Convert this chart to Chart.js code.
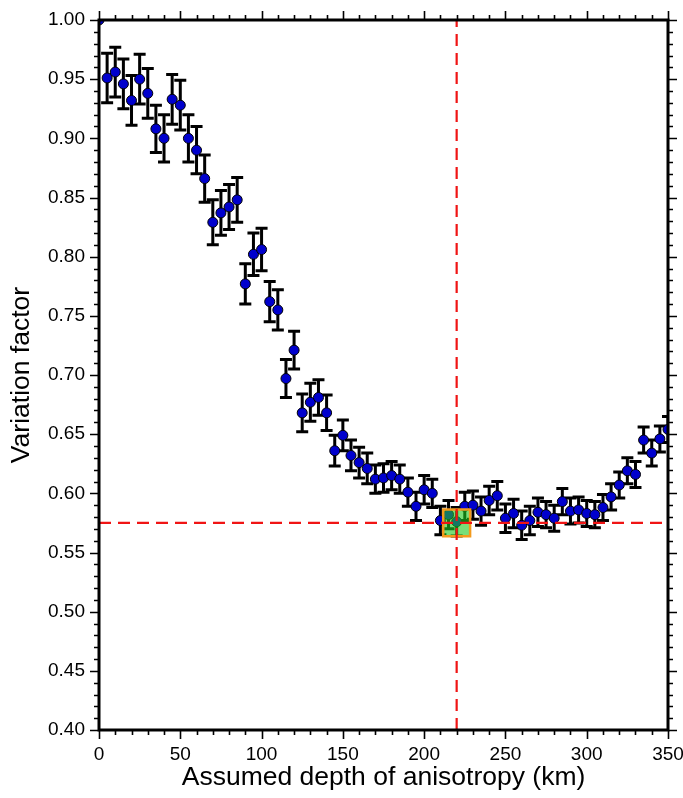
<!DOCTYPE html>
<html>
<head>
<meta charset="utf-8">
<script src="https://cdn.jsdelivr.net/npm/chart.js@4/dist/chart.umd.min.js"></script>
<style>
html,body{margin:0;padding:0;background:#ffffff;}
#wrap{width:683px;height:798px;position:relative;}
</style>
</head>
<body>
<div id="wrap"><canvas id="c" width="683" height="798"></canvas></div>
<script>
// ---- data ----
const depths = [0,5,10,15,20,25,30,35,40,45,50,55,60,65,70,75,80,85,90,95,
  100,105,110,115,120,125,130,135,140,145,150,155,160,165,170,175,180,185,190,195,
  200,205,210,215,220,225,230,235,240,245,250,255,260,265,270,275,280,285,290,295,
  300,305,310,315,320,325,330,335,340,345,350];
const factors = [1.000,0.951,0.956,0.946,0.932,0.950,0.938,0.908,0.900,0.933,
  0.928,0.900,0.890,0.866,0.829,0.837,0.842,0.848,0.777,0.802,
  0.806,0.762,0.755,0.697,0.721,0.668,0.677,0.681,0.668,0.636,
  0.649,0.632,0.626,0.621,0.612,0.613,0.615,0.612,0.601,0.589,
  0.603,0.600,0.577,0.582,0.576,0.589,0.590,0.585,0.594,0.598,
  0.579,0.583,0.573,0.577,0.584,0.582,0.579,0.593,0.585,0.586,
  0.583,0.582,0.588,0.597,0.607,0.619,0.616,0.645,0.634,0.646,0.654];
const errors = [0.000,0.021,0.021,0.021,0.021,0.021,0.021,0.020,0.020,0.021,
  0.021,0.020,0.020,0.020,0.019,0.019,0.019,0.019,0.017,0.018,
  0.018,0.017,0.017,0.016,0.016,0.016,0.016,0.015,0.015,0.013,
  0.013,0.013,0.013,0.013,0.012,0.012,0.012,0.012,0.012,0.012,
  0.012,0.012,0.012,0.012,0.012,0.012,0.012,0.012,0.012,0.012,
  0.012,0.012,0.012,0.012,0.012,0.011,0.011,0.011,0.011,0.011,
  0.011,0.011,0.011,0.011,0.011,0.011,0.011,0.011,0.011,0.011,0.011];
const bestDepth = 220;
const bestFactor = 0.575;
const xTickValues = [0,50,100,150,200,250,300,350];
const yTickValues = [0.40,0.45,0.50,0.55,0.60,0.65,0.70,0.75,0.80,0.85,0.90,0.95,1.00];
const xRange = [0,350];
const yRange = [0.40,1.00];

const FONT = '"Liberation Sans", Arial, Helvetica, sans-serif';

const points = depths.map((d,i)=>({x:d,y:factors[i]}));

const errorBarPlugin = {
  id:'errorBars',
  beforeDatasetsDraw(chart){
    const {ctx, chartArea, scales:{x,y}} = chart;
    ctx.save();
    ctx.beginPath();
    ctx.rect(chartArea.left, chartArea.top, chartArea.right-chartArea.left, chartArea.bottom-chartArea.top);
    ctx.clip();
    ctx.strokeStyle = '#000';
    ctx.lineWidth = 3;
    ctx.lineCap = 'butt';
    const cap = 6;
    depths.forEach((d,i)=>{
      const e = errors[i];
      if (!e) return;
      const px = x.getPixelForValue(d);
      const top = y.getPixelForValue(factors[i]+e);
      const bot = y.getPixelForValue(factors[i]-e);
      ctx.beginPath();
      ctx.moveTo(px, top-1.5); ctx.lineTo(px, bot+1.5);
      ctx.moveTo(px-cap, top); ctx.lineTo(px+cap, top);
      ctx.moveTo(px-cap, bot); ctx.lineTo(px+cap, bot);
      ctx.stroke();
    });
    ctx.restore();
  }
};

const framePlugin = {
  id:'frame',
  afterDraw(chart){
    const {ctx, chartArea:a, scales:{x,y}} = chart;
    ctx.save();
    ctx.strokeStyle = '#000';
    ctx.lineWidth = 1.6;
    ctx.beginPath();
    for (let v = xRange[0]; v <= xRange[1]+1e-9; v += 10) {
      const px = Math.round(x.getPixelForValue(v)) + 0.5;
      const len = (Math.round(v) % 50 === 0) ? 9 : 5;
      ctx.moveTo(px, a.bottom); ctx.lineTo(px, a.bottom+len);
      ctx.moveTo(px, a.top); ctx.lineTo(px, a.top-len);
    }
    for (let k = 40; k <= 100; k += 1) {
      const v = k/100;
      const py = Math.round(y.getPixelForValue(v)) + 0.5;
      const len = (k % 5 === 0) ? 9 : 5;
      ctx.moveTo(a.left, py); ctx.lineTo(a.left-len, py);
      ctx.moveTo(a.right, py); ctx.lineTo(a.right+len, py);
    }
    ctx.stroke();
    ctx.lineWidth = 3;
    ctx.strokeRect(a.left, a.top, a.right-a.left, a.bottom-a.top);
    ctx.restore();
  }
};

new Chart(document.getElementById('c'), {
  type:'scatter',
  data:{
    datasets:[
      {
        label:'best depth',
        type:'line',
        data:[{x:bestDepth,y:yRange[0]},{x:bestDepth,y:yRange[1]}],
        borderColor:'#f01414',
        borderWidth:2.2,
        borderDash:[12,7],
        pointRadius:0,
        fill:false,
        showLine:true,
        order:0
      },
      {
        label:'best factor',
        type:'line',
        data:[{x:xRange[0],y:bestFactor},{x:xRange[1],y:bestFactor}],
        borderColor:'#f01414',
        borderWidth:2.2,
        borderDash:[12,7],
        pointRadius:0,
        fill:false,
        showLine:true,
        order:0
      },
      {
        label:'minimum',
        data:[{x:bestDepth,y:bestFactor}],
        pointStyle:'rect',
        pointRadius:19,
        backgroundColor:'rgba(30,200,30,0.6)',
        borderColor:'#f39a1c',
        borderWidth:2.5,
        order:1
      },
      {
        label:'variation factor',
        data:points,
        pointStyle:'circle',
        pointRadius:5,
        backgroundColor:'#0000cd',
        borderColor:'#000000',
        borderWidth:1,
        order:2
      }
    ]
  },
  options:{
    responsive:false,
    animation:false,
    events:[],
    layout:{autoPadding:false, padding:{top:20,right:15,left:0,bottom:0}},
    plugins:{legend:{display:false},tooltip:{enabled:false}},
    scales:{
      x:{
        type:'linear', position:'bottom',
        min:xRange[0], max:xRange[1],
        grid:{display:false, drawTicks:false},
        border:{display:false},
        afterBuildTicks:s=>{ s.ticks = xTickValues.map(v=>({value:v})); },
        ticks:{font:{family:FONT,size:19}, color:'#000', padding:13, maxRotation:0, autoSkip:false,
               callback:v=>String(v)},
        title:{display:true, text:'Assumed depth of anisotropy (km)', color:'#000',
               font:{family:FONT,size:26.5}, padding:{top:0,bottom:4}},
        afterFit:s=>{ s.height = 68; s.paddingLeft = 0; s.paddingRight = 0; }
      },
      y:{
        type:'linear', position:'left',
        min:yRange[0], max:yRange[1],
        grid:{display:false, drawTicks:false},
        border:{display:false},
        afterBuildTicks:s=>{ s.ticks = yTickValues.map(v=>({value:v})); },
        ticks:{font:{family:FONT,size:19}, color:'#000', padding:14, autoSkip:false,
               callback:v=>Number(v).toFixed(2)},
        title:{display:true, text:'Variation factor', color:'#000',
               font:{family:FONT,size:26.5}, padding:{top:6,bottom:0}},
        afterFit:s=>{ s.width = 99; s.paddingTop = 0; s.paddingBottom = 0; }
      }
    }
  },
  plugins:[errorBarPlugin, framePlugin]
});
</script>
</body>
</html>
